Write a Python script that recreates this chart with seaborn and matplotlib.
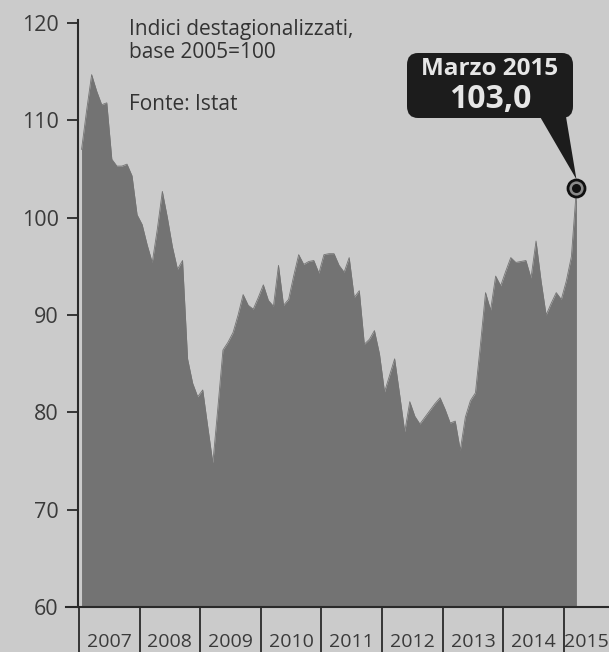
import pandas as pd
import matplotlib.pyplot as plt
import seaborn as sns
from matplotlib.patches import FancyBboxPatch, Polygon

# Monthly index values, Jan 2007 - Mar 2015
values = [
    107.0, 111.0, 114.7, 113.0, 111.6, 111.8, 106.0, 105.3, 105.3, 105.5, 104.3, 100.3,  # 2007
    99.3, 97.2, 95.4, 98.8, 102.7, 100.0, 97.0, 94.7, 95.6, 85.5, 83.0, 81.6,  # 2008
    82.3, 78.5, 74.8, 80.5, 86.4, 87.2, 88.2, 90.0, 92.1, 91.0, 90.6, 91.8,  # 2009
    93.1, 91.5, 90.9, 95.1, 91.0, 91.6, 94.0, 96.2, 95.2, 95.5, 95.6, 94.3,  # 2010
    96.2, 96.3, 96.3, 95.1, 94.4, 95.9, 91.8, 92.5, 87.0, 87.5, 88.4, 86.0,  # 2011
    82.1, 83.8, 85.5, 81.8, 78.0, 81.1, 79.6, 78.8, 79.5, 80.2, 80.9, 81.5,  # 2012
    80.3, 78.9, 79.1, 76.1, 79.5, 81.2, 82.0, 87.0, 92.3, 90.5, 94.0, 93.0,  # 2013
    94.5, 95.9, 95.4, 95.5, 95.6, 93.8, 97.6, 93.5, 90.0, 91.2, 92.3, 91.6,  # 2014
    93.5, 96.0, 103.0,  # 2015
]
years = ["2007", "2008", "2009", "2010", "2011", "2012", "2013", "2014", "2015"]
y_ticks = [60, 70, 80, 90, 100, 110, 120]
note_text = "Indici destagionalizzati,\nbase 2005=100"
source_text = "Fonte: Istat"
callout_month = "Marzo 2015"
callout_value = "103,0"

df = pd.DataFrame({"mese": range(len(values)), "indice": values})

bg = "#cbcbcb"
fill = "#737373"
ink = "#2a2a2a"

sns.set_theme(style="white")
plt.rcParams["font.family"] = ["Open Sans", "DejaVu Sans"]

fig = plt.figure(figsize=(6.09, 6.52), dpi=100, facecolor=bg)
ax = fig.add_axes([78 / 609, 45 / 652, 531 / 609, 584 / 652])
ax.set_facecolor(bg)

sns.lineplot(data=df, x="mese", y="indice", ax=ax, color=fill, lw=0.6)
ax.fill_between(df["mese"], df["indice"], 60, color=fill, lw=0)

ax.set_xlim(-0.7, 104.45)
ax.set_ylim(60, 120)
ax.set_xlabel("")
ax.set_ylabel("")

for s in ["top", "right"]:
    ax.spines[s].set_visible(False)
ax.spines["left"].set_color(ink)
ax.spines["left"].set_linewidth(1.5)
ax.spines["left"].set_bounds(60, 120.3)
ax.spines["bottom"].set_color(ink)
ax.spines["bottom"].set_linewidth(1.5)
ax.spines["bottom"].set_bounds(-3.1, 104.45)

# y axis
ax.set_yticks(y_ticks)
ax.set_yticklabels([str(v) for v in y_ticks])
ax.tick_params(axis="y", direction="out", length=8, width=1.3, color=ink,
               labelsize=15.5, labelcolor="#3a3a3a", pad=6, left=True)

# x axis: year separators as major ticks, year names centred as minor ticks
bounds = [12 * k - 0.5 for k in range(len(years))]
centers = [b + 6 for b in bounds[:-1]] + [(bounds[-1] + 104.45) / 2]
ax.set_xticks(bounds)
ax.set_xticklabels([""] * len(bounds))
ax.tick_params(axis="x", which="major", direction="out", length=34, width=1.3,
               color=ink, bottom=True)
ax.set_xticks(centers, minor=True)
ax.set_xticklabels(years, minor=True, fontsize=14, color="#3a3a3a")
ax.tick_params(axis="x", which="minor", length=0, pad=19, bottom=True)

# notes
fig.text(129 / 609, 1 - 19 / 652, note_text, ha="left", va="top", fontsize=15,
         color="#333333", linespacing=1.12)
fig.text(129 / 609, 1 - 94 / 652, source_text, ha="left", va="top", fontsize=15,
         color="#333333")

# last value marker
last_x = df["mese"].iloc[-1]
last_y = df["indice"].iloc[-1]
ax.scatter([last_x], [last_y], s=150, color="#8a8a8a", edgecolor="#111111",
           linewidth=2, zorder=5, clip_on=False)
ax.scatter([last_x], [last_y], s=30, color="#111111", zorder=6, clip_on=False)

# callout box with tail pointing at the marker
box_x0, box_x1 = 407 / 609, 573 / 609
box_y0, box_y1 = 1 - 118 / 652, 1 - 53 / 652
fig.patches.append(FancyBboxPatch((box_x0, box_y0), box_x1 - box_x0, box_y1 - box_y0,
                                  boxstyle="round,pad=0,rounding_size=0.018",
                                  transform=fig.transFigure, facecolor="#1c1c1c",
                                  edgecolor="none", zorder=3))
tip = fig.transFigure.inverted().transform(ax.transData.transform((last_x, last_y)))
tail = Polygon([(540 / 609, box_y0 + 0.002), (566 / 609, box_y0 + 0.002),
                (tip[0], tip[1] + 0.014)], closed=True, transform=fig.transFigure,
               facecolor="#1c1c1c", edgecolor="none", zorder=3)
fig.patches.append(tail)
fig.text((box_x0 + box_x1) / 2, 1 - 69 / 652, callout_month, ha="center", va="center",
         fontsize=17.5, fontweight="bold", color="#e6e6e6", zorder=4)
fig.text((box_x0 + box_x1) / 2, 1 - 100 / 652, callout_value, ha="center", va="center",
         fontsize=23, fontweight="bold", color="#e6e6e6", zorder=4)

fig.savefig("out.png", dpi=100, facecolor=bg)
